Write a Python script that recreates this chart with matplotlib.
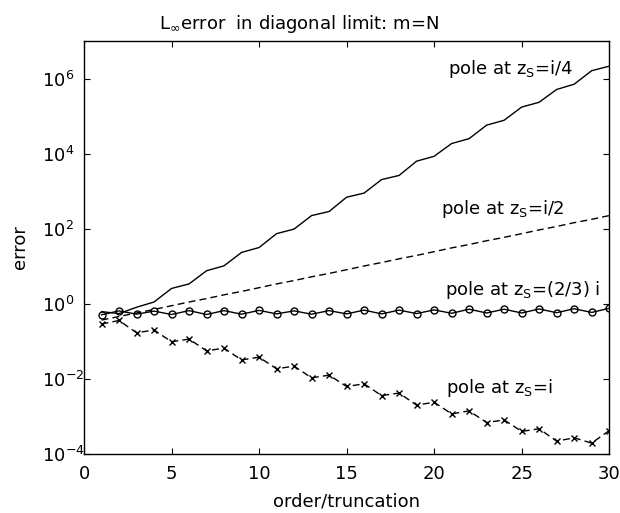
# Error of rational approximation in the diagonal limit m = N.
import matplotlib
matplotlib.use('Agg')
import matplotlib.pyplot as plt
from matplotlib.ticker import NullLocator

order = list(range(1, 31))

# pole at z_S = i/4 (solid line)
err_quarter = [0.62, 0.55, 0.81, 1.12, 2.57, 3.39, 7.6, 10.3, 23.4, 31.6,
               74, 98, 224, 288, 692, 891, 2040, 2630, 6310, 8510,
               18600, 25100, 57500, 77600, 174000, 234000, 513000, 708000,
               1620000, 2140000]

# pole at z_S = i/2 (dashed line)
err_half = [0.37, 0.46, 0.57, 0.71, 0.89, 1.12, 1.38, 1.74, 2.14, 2.69,
            3.39, 4.17, 5.25, 6.46, 8.1, 10.2, 12.6, 15.8, 19.5, 24.5,
            30.9, 38, 47.9, 59, 74, 93, 115, 145, 178, 224]

# pole at z_S = (2/3) i (solid line with circles)
err_twothirds = [0.51, 0.65, 0.53, 0.64, 0.52, 0.66, 0.52, 0.66, 0.53, 0.67,
                 0.54, 0.65, 0.53, 0.66, 0.54, 0.68, 0.54, 0.68, 0.55, 0.69,
                 0.56, 0.72, 0.57, 0.72, 0.57, 0.73, 0.58, 0.74, 0.59, 0.76]

# pole at z_S = i (dashed line with crosses)
err_one = [0.29, 0.36, 0.17, 0.20, 0.098, 0.115, 0.056, 0.066, 0.032, 0.038,
           0.0186, 0.0219, 0.0107, 0.0126, 0.0063, 0.0074, 0.0036, 0.0042,
           0.0020, 0.0024, 0.00117, 0.00141, 0.00069, 0.00081, 0.00040,
           0.00047, 0.00022, 0.00027, 0.000195, 0.00042]

x_ticks = [0, 5, 10, 15, 20, 25, 30]
y_ticks = [1e-4, 1e-2, 1e0, 1e2, 1e4, 1e6]

plt.rcParams['font.family'] = ['DejaVu Sans']
plt.rcParams['mathtext.fontset'] = 'dejavusans'
fs = 13

fig = plt.figure(figsize=(6.2, 5.13), dpi=100)
ax = fig.add_axes([0.1355, 0.115, 0.847, 0.805])

ax.semilogy(order, err_quarter, color='black', lw=1.0)
ax.semilogy(order, err_half, color='black', lw=1.0, ls=(0, (5, 3)))
ax.semilogy(order, err_twothirds, color='black', lw=1.0, marker='o',
            markersize=5, markerfacecolor='none', markeredgewidth=1.0)
ax.semilogy(order, err_one, color='black', lw=1.0, ls=(0, (5, 3)),
            marker='x', markersize=4.5, markeredgewidth=1.0)

ax.set_xlim(0, 30)
ax.set_ylim(1e-4, 1e7)
ax.set_xticks(x_ticks)
ax.set_yticks(y_ticks)
ax.yaxis.set_minor_locator(NullLocator())
ax.tick_params(direction='in', top=True, right=True, length=4, width=0.8,
               labelsize=fs)
ax.tick_params(axis='x', pad=8)
ax.tick_params(axis='y', pad=30)
for lab in ax.get_yticklabels():
    lab.set_horizontalalignment('left')
for s in ax.spines.values():
    s.set_linewidth(1.0)

ax.text(20.8, 10**6.11, r'pole at z$_\mathrm{S}$=i/4', fontsize=fs, va='baseline')
ax.text(20.4, 10**2.39, r'pole at z$_\mathrm{S}$=i/2', fontsize=fs, va='baseline')
ax.text(20.6, 10**0.24, r'pole at z$_\mathrm{S}$=(2/3) i', fontsize=fs, va='baseline')
ax.text(20.7, 10**-2.38, r'pole at z$_\mathrm{S}$=i', fontsize=fs, va='baseline')

ax.set_title(r'L$_{\infty}$error  in diagonal limit: m=N', fontsize=fs,
             x=0.41, pad=9)
ax.set_xlabel('order/truncation', fontsize=fs, va='center')
ax.xaxis.set_label_coords(0.5, -0.115)
ax.set_ylabel('error', fontsize=fs, va='center')
ax.yaxis.set_label_coords(-0.121, 0.5)

fig.savefig('out.png', dpi=100)
